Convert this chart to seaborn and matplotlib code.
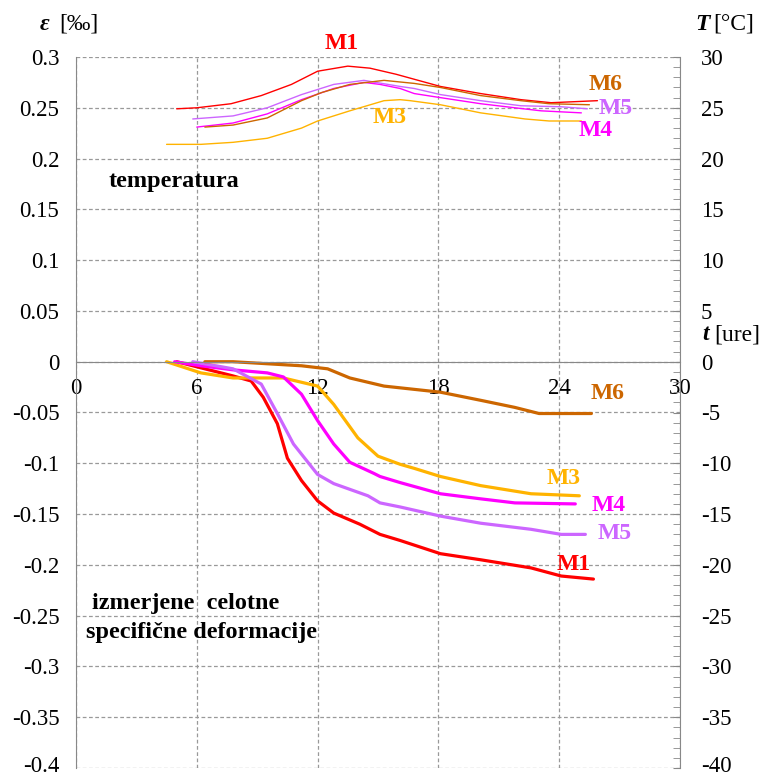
import numpy as np
import pandas as pd
import matplotlib
matplotlib.use("Agg")
import matplotlib.pyplot as plt
import matplotlib.transforms as mtransforms
from matplotlib.ticker import MultipleLocator, FixedLocator
import seaborn as sns

sns.set_style("white")
plt.rcParams["font.family"] = ["Liberation Serif", "DejaVu Serif"]
plt.rcParams["axes.unicode_minus"] = False
plt.rcParams["text.color"] = "black"
plt.rcParams["xtick.labelcolor"] = "black"
plt.rcParams["ytick.labelcolor"] = "black"

# ---- measured total specific strain [per mille] vs. time [h] ----
m1_t = [5.0, 6.2, 7.8, 8.7, 9.3, 10.0, 10.5, 11.2, 12.0, 12.8, 14.1, 15.1, 16.1, 18.1, 20.1, 22.6, 24.1, 25.7]
m1_e = [0.0, -0.006, -0.014, -0.019, -0.035, -0.061, -0.095, -0.117, -0.137, -0.149, -0.160, -0.170, -0.176, -0.189, -0.195, -0.203, -0.211, -0.214]

m3_t = [4.5, 6.2, 7.8, 10.3, 12.0, 12.8, 14.0, 15.0, 16.1, 16.8, 18.1, 20.1, 22.6, 25.0]
m3_e = [0.0, -0.011, -0.016, -0.016, -0.024, -0.042, -0.075, -0.093, -0.101, -0.105, -0.113, -0.122, -0.130, -0.132]

m4_t = [4.9, 6.2, 7.8, 9.5, 10.3, 11.2, 12.0, 12.8, 13.6, 14.8, 15.1, 16.1, 18.1, 20.1, 21.8, 24.8]
m4_e = [0.0, -0.004, -0.008, -0.011, -0.015, -0.032, -0.058, -0.081, -0.099, -0.110, -0.113, -0.119, -0.130, -0.135, -0.139, -0.140]

m5_t = [5.8, 7.8, 9.2, 10.0, 10.8, 12.0, 12.8, 14.5, 15.1, 16.1, 18.1, 20.1, 22.6, 24.1, 25.3]
m5_e = [0.0, -0.007, -0.022, -0.051, -0.081, -0.111, -0.120, -0.132, -0.139, -0.143, -0.152, -0.159, -0.165, -0.170, -0.170]

m6_t = [6.4, 7.8, 9.5, 11.2, 12.5, 13.6, 15.3, 18.1, 20.1, 21.8, 23.0, 25.6]
m6_e = [0.0, 0.0, -0.002, -0.004, -0.007, -0.016, -0.024, -0.030, -0.038, -0.045, -0.051, -0.051]

# ---- measured temperature [deg C] vs. time [h] ----
m1_tt = [5.0, 6.0, 7.7, 9.2, 10.7, 12.0, 13.5, 14.6, 15.9, 18.1, 20.1, 22.1, 23.6, 25.9]
m1_T = [24.9, 25.0, 25.4, 26.2, 27.3, 28.6, 29.1, 28.9, 28.3, 27.1, 26.4, 25.8, 25.5, 25.7]

m3_tt = [4.5, 6.2, 7.8, 9.5, 11.2, 12.0, 13.6, 15.3, 16.1, 16.6, 18.1, 20.1, 22.3, 23.5, 25.1]
m3_T = [21.4, 21.4, 21.6, 22.0, 23.0, 23.7, 24.7, 25.7, 25.8, 25.7, 25.3, 24.5, 23.9, 23.7, 23.7]

m4_tt = [6.0, 7.8, 9.5, 11.2, 12.8, 14.3, 15.1, 16.1, 16.8, 18.1, 20.1, 21.8, 23.1, 25.1]
m4_T = [23.1, 23.5, 24.4, 25.8, 26.9, 27.5, 27.3, 26.9, 26.4, 26.0, 25.4, 25.0, 24.7, 24.5]

m5_tt = [5.8, 7.8, 9.5, 11.2, 12.8, 14.3, 16.1, 16.8, 18.1, 20.1, 22.1, 24.1, 25.4]
m5_T = [23.9, 24.2, 25.0, 26.3, 27.3, 27.7, 27.1, 26.9, 26.3, 25.7, 25.2, 25.1, 24.9]

m6_tt = [6.4, 7.8, 9.5, 11.2, 12.2, 13.6, 15.3, 16.8, 18.1, 20.1, 22.1, 23.5, 25.5]
m6_T = [23.1, 23.3, 24.0, 25.7, 26.5, 27.3, 27.7, 27.4, 27.0, 26.2, 25.7, 25.4, 25.3]

series = ["M1", "M3", "M4", "M5", "M6"]
colors = {"M1": "#FF0000", "M3": "#FFB300", "M4": "#FF00FF", "M5": "#CC66FF", "M6": "#CC6600"}

eps_ticks = [-0.4, -0.35, -0.3, -0.25, -0.2, -0.15, -0.1, -0.05, 0, 0.05, 0.1, 0.15, 0.2, 0.25, 0.3]
eps_labels = ["-0.4", "-0.35", "-0.3", "-0.25", "-0.2", "-0.15", "-0.1", "-0.05", "0",
              "0.05", "0.1", "0.15", "0.2", "0.25", "0.3"]
temp_ticks = [-40, -35, -30, -25, -20, -15, -10, -5, 0, 5, 10, 15, 20, 25, 30]
time_ticks = [0, 6, 12, 18, 24, 30]

strain = pd.concat([
    pd.DataFrame({"t": t, "eps": e, "serija": s})
    for s, t, e in zip(series, [m1_t, m3_t, m4_t, m5_t, m6_t], [m1_e, m3_e, m4_e, m5_e, m6_e])
])
temp = pd.concat([
    pd.DataFrame({"t": t, "T": T, "serija": s})
    for s, t, T in zip(series, [m1_tt, m3_tt, m4_tt, m5_tt, m6_tt], [m1_T, m3_T, m4_T, m5_T, m6_T])
])

W, H = 767, 778
fig = plt.figure(figsize=(W / 100, H / 100), dpi=100)
ax = fig.add_axes([76 / W, 1 - 768 / H, 604 / W, 711 / H])
ax2 = ax.twinx()

grey = "#888888"
FS = 16.5

sns.lineplot(data=strain, x="t", y="eps", hue="serija", palette=colors, sort=False,
             estimator=None, linewidth=2.3, legend=False, ax=ax)
sns.lineplot(data=temp, x="t", y="T", hue="serija", palette=colors, sort=False,
             estimator=None, linewidth=1.0, legend=False, ax=ax2)

ax.set_xlim(0, 30)
ax.set_ylim(-0.4, 0.3)
ax2.set_ylim(-40, 30)

# left axis
ax.set_yticks(eps_ticks)
ax.set_yticklabels(eps_labels)
ax.tick_params(axis="y", length=0, pad=12, labelsize=FS)
ax.set_xlabel("")
ax.set_ylabel("")
ax2.set_ylabel("")

# time axis drawn through zero strain
ax.spines["bottom"].set_position(("data", 0))
ax.spines["bottom"].set_color(grey)
ax.spines["left"].set_color(grey)
ax.spines["top"].set_visible(False)
ax.spines["right"].set_visible(False)
for sp in ["top", "left", "bottom"]:
    ax2.spines[sp].set_visible(False)
ax2.spines["right"].set_color(grey)

ax.set_xticks(time_ticks)
ax.set_xticklabels([str(v) for v in time_ticks])
ax.xaxis.set_minor_locator(FixedLocator(np.arange(2.8, 29, 2.8)))
ax.tick_params(axis="x", which="major", length=0, pad=12, labelsize=FS)
ax.tick_params(axis="x", which="minor", length=5, direction="in", color=grey)

ax.grid(True, which="major", axis="both", color="#999999", linestyle=(0, (3, 2)), linewidth=0.9)
ax.set_axisbelow(True)

# right axis
ax2.set_yticks(temp_ticks)
ax2.set_yticklabels([str(v) for v in temp_ticks])
ax2.yaxis.set_minor_locator(MultipleLocator(1))
ax2.tick_params(axis="y", which="both", direction="in", length=5, color=grey, pad=15, labelsize=FS)
ax2.grid(False)

# all tick labels centred on their baseline; the lowest pair lifted off the edge
lift = mtransforms.ScaledTranslation(0, 3 / 72, fig.dpi_scale_trans)
for a in (ax, ax2):
    labels = a.get_yticklabels()
    for lbl in labels:
        lbl.set_va("center_baseline")
    labels[0].set_transform(labels[0].get_transform() + lift)

# series labels
lab = dict(fontsize=17, fontweight="bold", ha="center", va="center")
ax.text(13.2, 0.313, "M1", color=colors["M1"], **lab)
ax2.text(15.6, 24.0, "M3", color=colors["M3"], **lab)
ax2.text(26.3, 27.3, "M6", color=colors["M6"], **lab)
ax2.text(26.8, 24.9, "M5", color=colors["M5"], **lab)
ax2.text(25.8, 22.8, "M4", color=colors["M4"], **lab)
ax.text(24.7, -0.1995, "M1", color=colors["M1"], **lab)
ax.text(26.4, -0.031, "M6", color=colors["M6"], **lab)
ax.text(24.2, -0.115, "M3", color=colors["M3"], **lab)
ax.text(26.45, -0.1415, "M4", color=colors["M4"], **lab)
ax.text(26.75, -0.1695, "M5", color=colors["M5"], **lab)

ax.text(1.6, 0.177, "temperatura", fontsize=17.5, fontweight="bold", ha="left", va="center")
ax.text(0.8, -0.2385, "izmerjene  celotne", fontsize=17.5, fontweight="bold", ha="left", va="center")
ax.text(0.5, -0.267, "specifične deformacije", fontsize=17.5, fontweight="bold", ha="left", va="center")

# axis titles
def title(x, y, sym, rest, gap):
    fig.text(x / W, 1 - y / H, sym, fontsize=17, fontweight="bold", fontstyle="italic",
             ha="left", va="center")
    fig.text((x + gap) / W, 1 - y / H, rest, fontsize=17, ha="left", va="center")

title(40, 24, "ε", "[‰]", 19)
title(695, 24, "T", "[°C]", 18)
title(702, 335, "t", "[ure]", 12)

fig.savefig("out.png", dpi=100)
